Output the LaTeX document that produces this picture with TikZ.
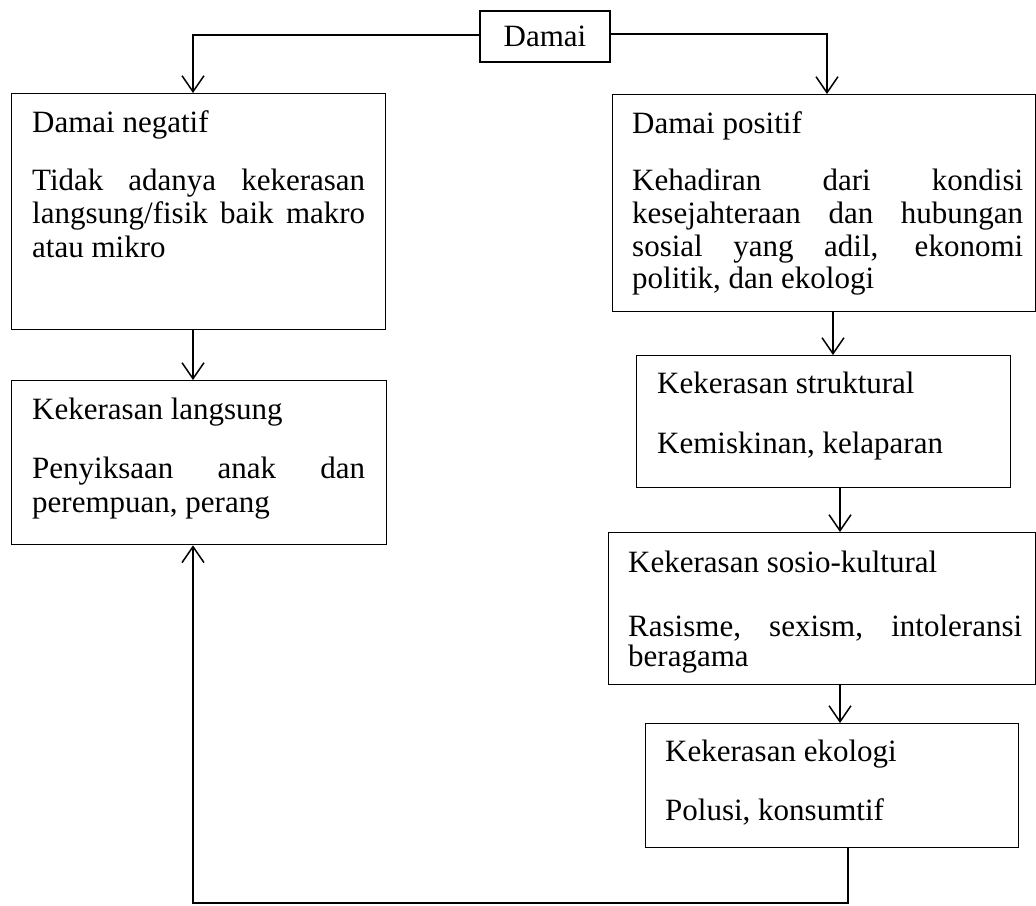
\documentclass[tikz,border=0pt]{standalone}
\usepackage{fontspec}
\setmainfont{Liberation Serif}
\usetikzlibrary{arrows.meta}
\begin{document}
\begin{tikzpicture}[x=1pt,y=-1pt,
  box/.style={draw, line width=1.3pt, inner sep=0pt, anchor=north west},
  txt/.style={anchor=base west, inner sep=0pt, font=\fontsize{31}{33}\selectfont},
  conn/.style={line width=1.5pt},
  arr/.style={conn, -{Straight Barb[length=16pt,width=22pt]}}]
\useasboundingbox (0,0) rectangle (1036,905);
% boxes
\node[draw, line width=1.3pt, inner sep=0pt, minimum width=130pt, minimum height=51pt,
      font=\fontsize{31}{33}\selectfont] (damai) at (545,36.5) {Damai};
\node[box, minimum width=374pt, minimum height=236pt] (neg) at (11,93) {};
\node[box, minimum width=375pt, minimum height=164pt] (lang) at (11,380) {};
\node[box, minimum width=423pt, minimum height=217pt] (pos) at (612,94) {};
\node[box, minimum width=374pt, minimum height=132pt] (str) at (636,355) {};
\node[box, minimum width=427pt, minimum height=152pt] (soc) at (608,532) {};
\node[box, minimum width=373pt, minimum height=124pt] (eko) at (645,723) {};
% texts
\node[txt] (t1) at (32,132) {Damai negatif};
\node[txt] (t2) at (32,190) {\makebox[333pt][s]{Tidak adanya kekerasan}};
\node[txt] (t3) at (32,223) {\makebox[333pt][s]{langsung/fisik baik makro}};
\node[txt] (t4) at (32,257) {atau mikro};
\node[txt] (t5) at (32,419) {Kekerasan langsung};
\node[txt] (t6) at (32,478) {\makebox[333pt][s]{Penyiksaan anak dan}};
\node[txt] (t7) at (32,512) {perempuan, perang};
\node[txt] (t8) at (632,133) {Damai positif};
\node[txt] (t9) at (632,190) {\makebox[391pt][s]{Kehadiran dari kondisi}};
\node[txt] (t10) at (632,223) {\makebox[391pt][s]{kesejahteraan dan hubungan}};
\node[txt] (t11) at (632,256) {\makebox[391pt][s]{sosial yang adil, ekonomi}};
\node[txt] (t12) at (632,288) {politik, dan ekologi};
\node[txt] (t13) at (657,393) {Kekerasan struktural};
\node[txt] (t14) at (657,453) {Kemiskinan, kelaparan};
\node[txt] (t15) at (628,572) {Kekerasan sosio-kultural};
\node[txt] (t16) at (628,636) {\makebox[394pt][s]{Rasisme, sexism, intoleransi}};
\node[txt] (t17) at (628,666) {beragama};
\node[txt] (t18) at (665,761) {Kekerasan ekologi};
\node[txt] (t19) at (665,820) {Polusi, konsumtif};
% connector guide coordinates
\coordinate (xl) at (193,0);
\coordinate (xr) at (827,0);
\coordinate (x1) at (833,0);
\coordinate (x2) at (840,0);
\coordinate (x3) at (848,0);
\coordinate (bot) at (0,903);
% connectors
\draw[arr] (damai.west |- 0,35) -- (xl |- 0,35) -- (xl |- neg.north);
\draw[arr] (damai.east |- 0,34) -- (xr |- 0,34) -- (xr |- pos.north);
\draw[arr] (xl |- neg.south) -- (xl |- lang.north);
\draw[arr] (x1 |- pos.south) -- (x1 |- str.north);
\draw[arr] (x2 |- str.south) -- (x2 |- soc.north);
\draw[arr] (x2 |- soc.south) -- (x2 |- eko.north);
\draw[arr] (x3 |- eko.south) -- (x3 |- bot) -- (xl |- bot) -- (xl |- lang.south);
\end{tikzpicture}
\end{document}
